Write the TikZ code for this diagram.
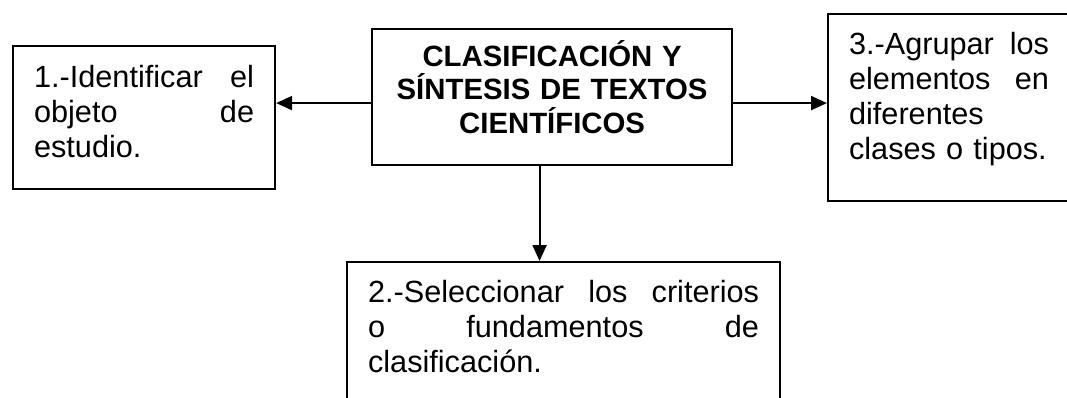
\documentclass[tikz,border=0pt]{standalone}
\usepackage{fontspec}
\setmainfont{Liberation Sans}
\usetikzlibrary{arrows.meta}

\begin{document}
\begin{tikzpicture}
[x=0.75pt,y=-0.75pt,%
  stepbox/.style={draw,line width=1.6pt,anchor=north west,inner xsep=15.75pt,inner ysep=0pt,%
    font=\fontsize{23pt}{26.25pt}\selectfont},%
  mainbox/.style={stepbox,align=center,font=\fontsize{22pt}{25.1pt}\selectfont\bfseries},%
  arr/.style={-{Triangle[length=12pt,width=10.5pt]},line width=1.6pt}]
\useasboundingbox (0,0) rectangle (1067,397);
\node[mainbox,text width=238.5pt,text height=27.75pt,text depth=74.25pt] (centre) at (371,28)
  {CLASIFICACIÓN Y\\ SÍNTESIS DE TEXTOS\\ CIENTÍFICOS};
\node[stepbox,text width=165pt,text height=30.75pt,text depth=76.5pt] (stepone) at (12,45)
  {1.-Identificar\hfill el\\ objeto\hfill de\\ estudio.};
\node[stepbox,text width=293.25pt,text height=30pt,text depth=96.75pt] (steptwo) at (346,261)
  {2.-Seleccionar\hfill los\hfill criterios\\ o\hfill fundamentos\hfill de\\ clasificación.};
\node[stepbox,text width=150pt,text height=30pt,text depth=110.25pt] (stepthree) at (827,13)
  {3.-Agrupar\hfill los\\ elementos\hfill en\\ diferentes\\ clases o tipos.};
% connectors
\draw[arr] ([yshift=-4.5pt]centre.west) coordinate (lt) -- (lt -| stepone.east);
\draw[arr] ([yshift=-4.5pt]centre.east) coordinate (rt) -- (rt -| stepthree.west);
\draw[arr] ([xshift=-9.375pt]centre.south) coordinate (dn) -- (dn |- steptwo.north);
\end{tikzpicture}
\end{document}
